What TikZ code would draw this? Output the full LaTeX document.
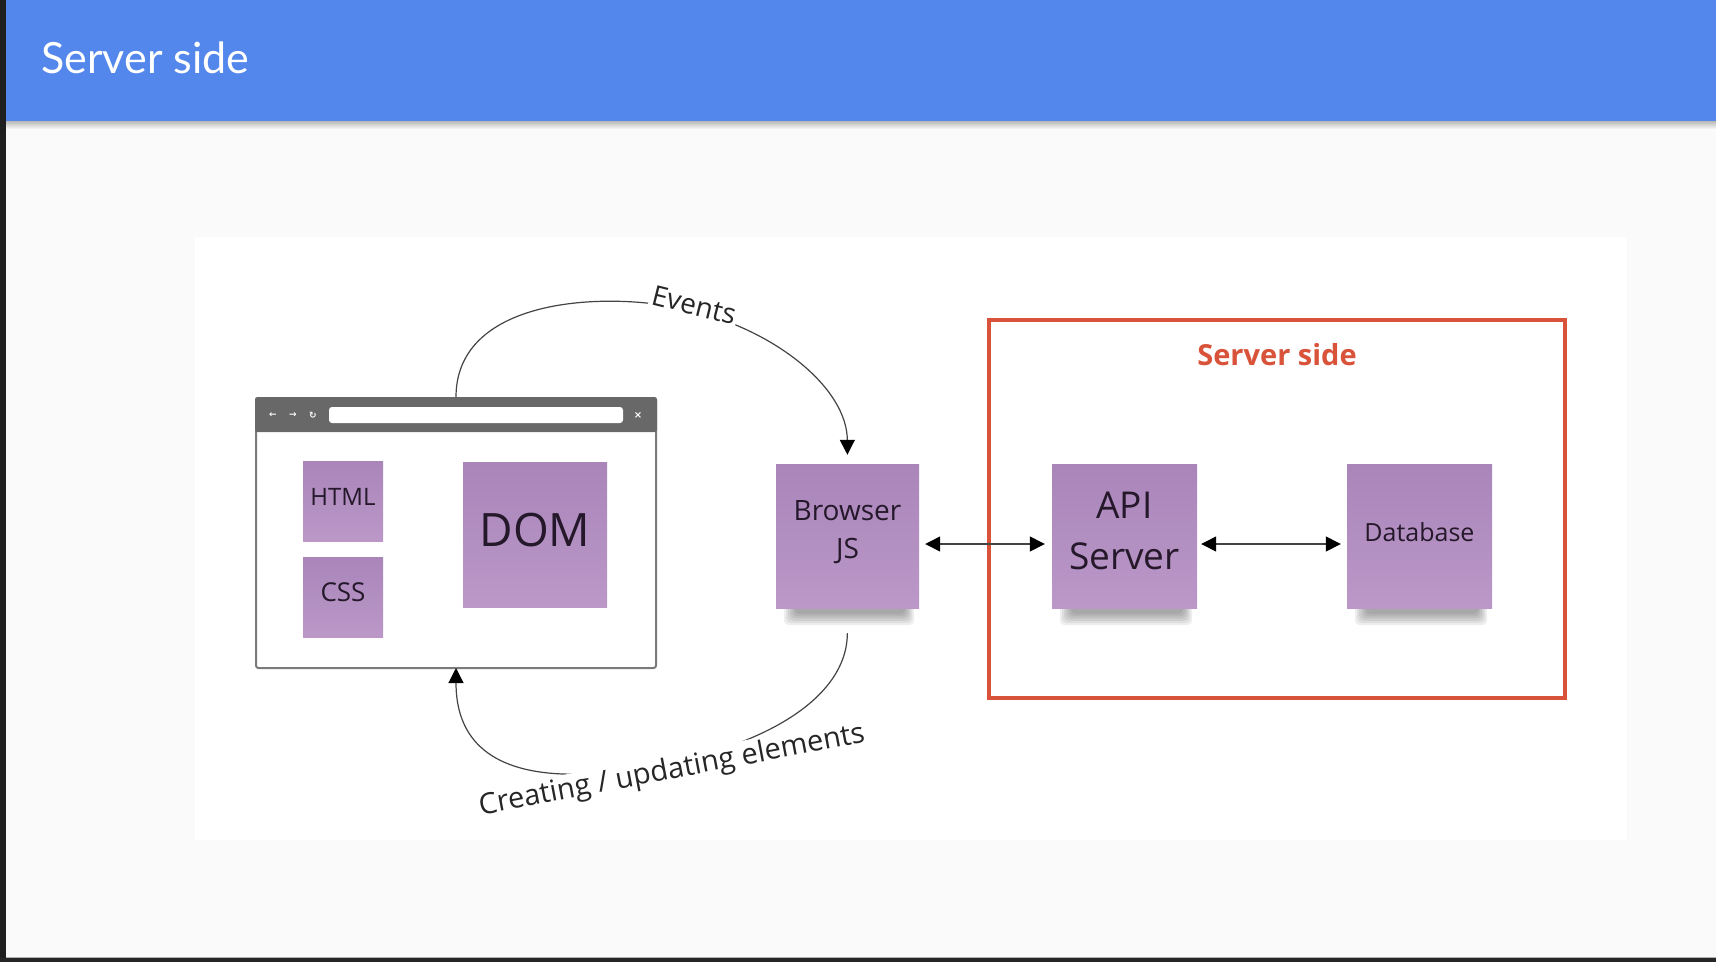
\documentclass[tikz,border=0pt]{standalone}
\usepackage{fontspec}
\setmainfont{Open Sans}
\newfontfamily\titlefont{Lato}
\newfontfamily\symfont{DejaVu Sans}
\usetikzlibrary{arrows.meta,calc}
\definecolor{pagebg}{HTML}{FAFAFA}
\definecolor{hdrblue}{HTML}{5487EC}
\definecolor{stickytop}{HTML}{A985BA}
\definecolor{stickybot}{HTML}{BB98C8}
\definecolor{redline}{HTML}{D9533A}
\definecolor{barGrey}{HTML}{686868}
\definecolor{frameGrey}{HTML}{7A7A7A}
\definecolor{lineGrey}{HTML}{444444}
\definecolor{inkText}{HTML}{24182A}
\pgfdeclarelayer{back}
\pgfdeclarelayer{shadow}
\pgfsetlayers{back,shadow,main}
\begin{document}
\begin{tikzpicture}[x=1pt,y=-1pt,
  sticky/.style={rectangle, inner sep=0pt, top color=stickytop, bottom color=stickybot,
    text=inkText, align=center},
  conn/.style={draw=lineGrey, line width=1.4pt},
  tipA/.style={-{Triangle[length=15pt,width=15pt,color=black]}},
  tipB/.style={{Triangle[length=15pt,width=15pt,color=black]}-{Triangle[length=15pt,width=15pt,color=black]}},
  curvelabel/.style={fill=white, inner sep=2pt, text=black!85}
]
\useasboundingbox (0,0) rectangle (1716,962);
\begin{pgfonlayer}{back}
  \fill[pagebg] (0,0) rectangle (1716,962);
  \fill[hdrblue] (0,0) rectangle (1716,121);
  \shade[top color=black!28, bottom color=pagebg] (0,121) rectangle (1716,129);
  \fill[white] (195,237) rectangle (1627,840);
  \fill[black!88] (0,0) rectangle (6,962);
  \fill[black!85] (0,958) rectangle (1716,962);
  \fill[black!30] (6,956.5) rectangle (1716,958);
\end{pgfonlayer}

% title
\node[anchor=base west, text=white, inner sep=0pt, font=\titlefont\fontsize{43}{50}\selectfont] (title) at (41,73) {Server side};

% browser window
\node[draw=frameGrey, line width=2pt, rounded corners=2.5pt, fill=white,
  minimum width=400pt, minimum height=270pt] (browser) at (456,533) {};
\fill[barGrey, rounded corners=2.5pt] (255,397) rectangle (657,432);
\fill[white, rounded corners=3pt] (329,407) rectangle (623,423);
\node[text=white, font=\symfont\bfseries\fontsize{9}{10}\selectfont, inner sep=0pt] (back) at (273,415) {←};
\node[text=white, font=\symfont\bfseries\fontsize{9}{10}\selectfont, inner sep=0pt] (fwd) at (293,415) {→};
\node[text=white, font=\symfont\bfseries\fontsize{9}{10}\selectfont, inner sep=0pt] (reload) at (313,415) {↻};
\node[text=white, font=\symfont\bfseries\fontsize{10}{10}\selectfont, inner sep=0pt] (close) at (638,415) {×};

% sticky notes
\node[sticky, minimum width=80pt, minimum height=80pt, text depth=9pt, font=\fontsize{24}{28}\selectfont] (html) at (343,501) {HTML};
\node[sticky, minimum width=80pt, minimum height=80pt, text depth=9pt, font=\fontsize{26}{30}\selectfont] (css) at (343,597) {CSS};
\node[sticky, minimum width=144pt, minimum height=145pt, text depth=11pt, font=\fontsize{46}{52}\selectfont] (dom) at (535,535) {DOM};
\node[sticky, minimum width=143pt, minimum height=144pt, text depth=14pt, font=\fontsize{28}{38}\selectfont] (bjs) at (847.5,536) {Browser\\JS};
\node[sticky, minimum width=145pt, minimum height=144pt, text depth=11pt, font=\fontsize{37}{51}\selectfont] (api) at (1124.5,536) {API\\Server};
\node[sticky, minimum width=145pt, minimum height=144pt, text depth=9pt, font=\fontsize{25}{30}\selectfont] (db) at (1419.5,536) {Database};

% soft shadows under sticky notes
\begin{pgfonlayer}{shadow}
\foreach \n in {html,css,dom,bjs,api,db}{
  \foreach \k in {0,...,5}{
    \fill[black, opacity=0.065, rounded corners=5pt]
      ([xshift={(8+2.2*\k)*1pt},yshift=4pt]\n.south west)
      rectangle ([xshift={-(5+1.8*\k)*1pt},yshift={-(17-2.2*\k)*1pt}]\n.south east);
  }
}
\end{pgfonlayer}

% server side box
\node[draw=redline, line width=4pt, minimum width=576pt, minimum height=378pt] (server) at (1277,509) {};
\node[text=redline, font=\bfseries\fontsize{29}{32}\selectfont] (srvlabel) at (1277,355) {Server side};

% horizontal connectors
\draw[conn, tipB, shorten <=6pt, shorten >=7pt] ([yshift=-8pt]bjs.east) -- ([yshift=-8pt]api.west);
\draw[conn, tipB, shorten <=4pt, shorten >=6pt] ([yshift=-8pt]api.east) -- ([yshift=-8pt]db.west);

% Events curve
\coordinate (evmid) at (694,311);
\draw[conn, line width=1.2pt, tipA, shorten >=9pt] (browser.north) .. controls (456,296) and (610,290) .. (evmid)
   .. controls (780,333) and (847,390) .. (bjs.north);
\node[curvelabel, rotate=-14, font=\fontsize{28}{30}\selectfont] (evlabel) at (694,305) {Events};

% Creating / updating curve
\coordinate (cumid) at (670,762);
\draw[conn, line width=1.2pt, tipA, shorten <=25pt, shorten >=-1pt] (bjs.south) .. controls (847,700) and (760,745) .. (cumid)
   .. controls (580,782) and (456,790) .. (browser.south);
\node[curvelabel, rotate=10.8, font=\fontsize{29}{32}\selectfont] (culabel) at (672,771) {Creating / updating elements};
\end{tikzpicture}
\end{document}
